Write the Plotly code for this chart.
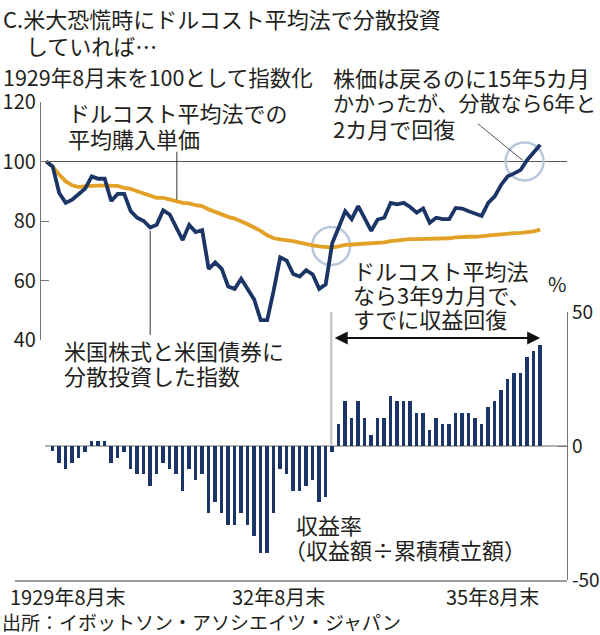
import plotly.graph_objects as go
import pandas as pd

# ---------------- data ----------------
months = [d.strftime("%Y-%m") for d in pd.date_range("1929-08-31", periods=77, freq="ME")]

index_values = [
    100.0, 98.3, 89.4, 86.1, 87.2, 89.1, 90.9, 95.0, 94.2, 94.2,
    86.7, 89.1, 89.1, 83.3, 81.1, 80.0, 77.8, 78.7, 83.6, 82.2,
    77.8, 73.6, 78.7, 76.3, 76.9, 63.9, 66.1, 63.9, 58.0, 57.2,
    60.6, 57.2, 53.6, 46.7, 46.7, 56.7, 67.8, 66.7, 62.2, 61.3,
    63.5, 62.0, 57.2, 58.7, 72.5, 77.8, 83.3, 80.6, 85.0, 80.9,
    76.7, 80.5, 81.1, 86.1, 85.6, 86.1, 84.7, 82.8, 84.2, 79.4,
    81.1, 80.6, 80.6, 84.4, 84.2, 83.3, 82.4, 81.7, 86.1, 88.3,
    92.2, 95.0, 96.0, 97.2, 100.5, 103.0, 105.6,
]

avg_cost = [
    100.0, 98.3, 95.6, 93.3, 92.0, 91.4, 91.7, 91.9, 91.9, 91.9,
    91.9, 91.8, 91.1, 90.8, 90.0, 89.2, 88.3, 87.8, 87.8, 87.4,
    86.7, 86.1, 85.9, 85.3, 85.0, 83.9, 83.0, 82.2, 81.4, 80.8,
    80.0, 78.9, 77.8, 76.7, 75.2, 74.2, 73.8, 73.6, 73.2, 72.7,
    72.1, 71.8, 71.5, 71.2, 71.1, 71.5, 72.0, 72.1, 72.2, 72.2,
    72.3, 72.4, 72.8, 73.2, 73.5, 73.7, 73.9, 73.9, 73.9, 73.9,
    73.9, 74.0, 74.2, 74.5, 74.7, 74.7, 74.7, 74.8, 75.0, 75.3,
    75.5, 75.8, 75.9, 76.0, 76.1, 76.5, 77.1,
]

return_months = months[1:]
return_rates = [
    -2.0, -6.3, -8.6, -6.3, -4.5, -2.2, 1.9, 1.9, 1.9, -6.3,
    -4.5, -2.2, -8.6, -10.4, -10.4, -14.8, -10.4, -6.3, -8.6, -10.4,
    -16.9, -8.6, -12.7, -10.4, -25.1, -21.0, -25.1, -29.4, -29.4, -25.1,
    -29.4, -33.5, -40.0, -40.0, -25.1, -8.6, -10.4, -16.9, -16.9, -14.8,
    -12.7, -21.0, -18.9, -2.4, 8.3, 16.8, 10.4, 16.8, 10.4, 4.1,
    10.4, 10.4, 18.7, 16.8, 16.8, 16.8, 12.4, 12.4, 6.1, 10.4,
    8.3, 8.3, 12.4, 12.4, 12.4, 10.4, 8.3, 14.6, 16.8, 20.9,
    25.0, 27.1, 27.1, 33.2, 35.4, 37.6,
]

left_ticks = [40, 60, 80, 100, 120]
right_ticks = [-50, 0, 50]
right_tick_text = ["-50", "0", "50"]
x_tick_labels = ["1929年8月末", "32年8月末", "35年8月末"]
x_tick_pos = [3.35, 35.8, 68.7]

# ---------------- style ----------------
W, H = 600, 635
FONT = "Noto Sans CJK JP"
TXT = "#231f20"
NAVY = "#1b3566"
ORANGE = "#e3a227"
CIRCLE = "#b7c8db"
CLEAR = "rgba(0,0,0,0)"

x_line = list(range(len(months)))
x_bar = [months.index(m) for m in return_months]


def px(x):
    return x / W


def py(y):
    return 1 - y / H


fig = go.Figure()
fig.add_trace(go.Scatter(x=x_line, y=avg_cost, mode="lines",
                         line=dict(color=ORANGE, width=3.8), xaxis="x", yaxis="y",
                         hoverinfo="skip", showlegend=False, cliponaxis=False))
fig.add_trace(go.Scatter(x=x_line, y=index_values, mode="lines",
                         line=dict(color=NAVY, width=3.8), xaxis="x", yaxis="y",
                         hoverinfo="skip", showlegend=False, cliponaxis=False))
fig.add_trace(go.Bar(x=x_bar, y=return_rates, width=0.54, marker=dict(color=NAVY, line=dict(width=0)),
                     xaxis="x", yaxis="y2", hoverinfo="skip", showlegend=False))


def txt(text, x_px, y_px, size=22, anchor="left"):
    return dict(text=text, x=px(x_px), y=py(y_px), xref="paper", yref="paper",
                xanchor=anchor, yanchor="middle", showarrow=False,
                font=dict(size=size, color=TXT, family=FONT))


annotations = [
    txt("C.米大恐慌時にドルコスト平均法で分散投資", 1, 18, 22),
    txt("していれば…", 24, 45, 22),
    txt("1929年8月末を100として指数化", 1, 77, 21.5),
    txt("株価は戻るのに15年5カ月", 331, 77, 22),
    txt("かかったが、分散なら6年と", 331, 102, 21),
    txt("2カ月で回復", 331, 128, 22),
    txt("ドルコスト平均法での", 66, 112),
    txt("平均購入単価", 66, 138),
    txt("米国株式と米国債券に", 62, 350),
    txt("分散投資した指数", 62, 375),
    txt("ドルコスト平均法", 351, 270),
    txt("なら3年9カ月で、", 351, 294),
    txt("すでに収益回復", 351, 318),
    txt("%", 557, 283, 20, "center"),
    txt("収益率", 294, 524),
    txt("（収益額÷累積積立額）", 282, 549),
    txt("出所：イボットソン・アソシエイツ・ジャパン", 0, 621, 19),
]
for lab, xv in zip(x_tick_labels, x_tick_pos):
    annotations.append(dict(text=lab, x=xv, y=py(596), xref="x", yref="paper",
                            xanchor="center", yanchor="middle", showarrow=False,
                            font=dict(size=20, color=TXT, family=FONT)))

# double-headed arrow
annotations.append(dict(text="", x=76.0, y=40.3, ax=44.15, ay=40.3,
                        xref="x", yref="y2", axref="x", ayref="y2",
                        showarrow=True, arrowside="end+start", arrowhead=2,
                        arrowsize=1.3, arrowwidth=2, arrowcolor="#111", standoff=0, startstandoff=0))

shapes = [
    dict(type="line", xref="paper", yref="y", x0=px(40), x1=px(567), y0=100, y1=100,
         line=dict(color="#555", width=1.2), layer="below"),
    dict(type="line", xref="paper", yref="y2", x0=px(45), x1=px(567), y0=0, y1=0,
         line=dict(color="#9a9a9a", width=1.5), layer="below"),
    dict(type="line", xref="x", yref="y2", x0=43.85, x1=43.85, y0=0, y1=67.9,
         line=dict(color="#c8c8c8", width=2.5), layer="below"),
    dict(type="line", xref="x", yref="y", x0=20.1, x1=20.1, y0=87.2, y1=103.3,
         line=dict(color="#333", width=1)),
    dict(type="line", xref="x", yref="y", x0=16.0, x1=16.0, y0=76.7, y1=41.7,
         line=dict(color="#333", width=1)),
    dict(type="line", xref="x", yref="y", x0=66.4, x1=73.3, y0=112.7, y1=100.4,
         line=dict(color="#555", width=1)),
    dict(type="circle", xref="x", yref="y", xsizemode="pixel", ysizemode="pixel",
         xanchor=43.85, yanchor=71.6, x0=-19, x1=19, y0=-19, y1=19,
         line=dict(color=CIRCLE, width=2.5), layer="below"),
    dict(type="circle", xref="x", yref="y", xsizemode="pixel", ysizemode="pixel",
         xanchor=73.6, yanchor=100, x0=-19, x1=19, y0=-19, y1=19,
         line=dict(color=CIRCLE, width=2.5), layer="below"),
]

fig.update_layout(
    template="none",
    width=W, height=H,
    margin=dict(l=0, r=0, t=0, b=0, pad=0, autoexpand=False),
    paper_bgcolor="white", plot_bgcolor=CLEAR,
    font=dict(family=FONT, color=TXT),
    showlegend=False,
    bargap=0,
    xaxis=dict(domain=[px(15), px(567)], range=[-4.8, 80.123], anchor="y2",
               automargin=False,
               showline=True, linecolor="#9a9a9a", linewidth=1.5,
               showgrid=False, zeroline=False, showticklabels=False, ticks="",
               fixedrange=True),
    yaxis=dict(domain=[py(340), py(102)], range=[40, 120], anchor="free", position=px(40),
               automargin=False,
               showline=True, linecolor="#777", linewidth=1.2,
               ticks="inside", ticklen=8, tickcolor="#777", tickwidth=1.2,
               tickvals=left_ticks, showgrid=False, zeroline=False,
               tickfont=dict(size=20, color=TXT, family=FONT)),
    yaxis2=dict(domain=[py(580), py(312)], range=[-50, 50], anchor="free", position=px(567),
                automargin=False,
                side="right", showline=True, linecolor="#777", linewidth=1.2,
                ticks="inside", ticklen=9, tickcolor="#777", tickwidth=1.2,
                tickvals=right_ticks, ticktext=right_tick_text,
                showgrid=False, zeroline=False,
                tickfont=dict(size=19, color=TXT, family=FONT)),
    annotations=annotations,
    shapes=shapes,
)

fig.write_html("out.html")
